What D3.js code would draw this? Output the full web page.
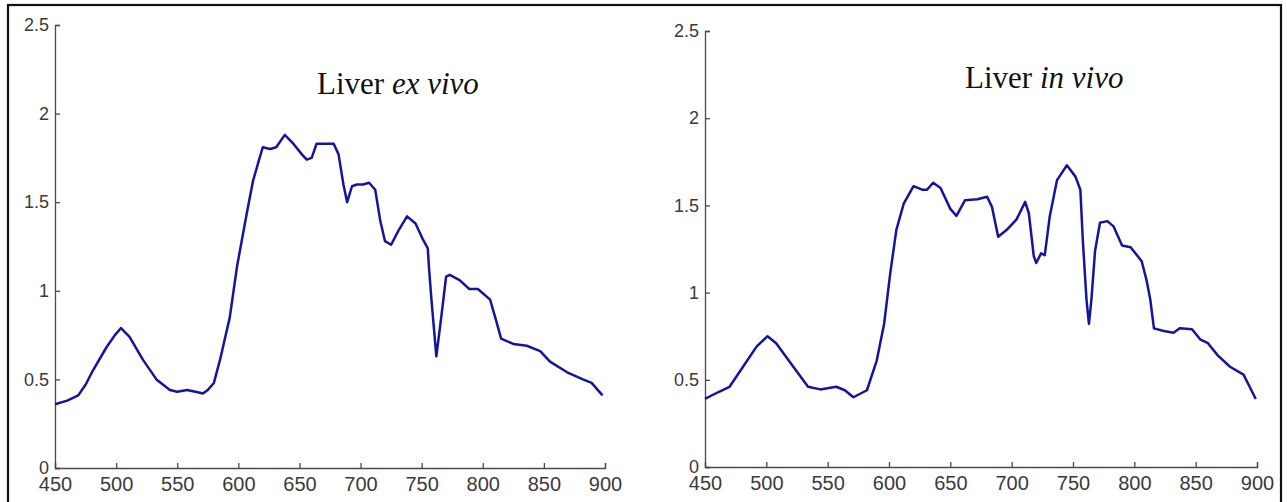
<!DOCTYPE html>
<html>
<head>
<meta charset="utf-8">
<script src="https://cdn.jsdelivr.net/npm/d3@7"></script>
<style>
  body { margin: 0; background: #fff; }
  .tick text { fill: #3a3a3a; font-family: "Liberation Sans", Arial, sans-serif; }
  .domain, .tick line { stroke: #4a4a4a; }
</style>
</head>
<body>
<div id="chart"></div>
<script>
// ex vivo spectrum (wavelength nm, value)
var exVivoWl = [450, 460, 469, 475, 481, 492, 499, 504, 511, 522, 533, 544, 550, 558, 565, 571, 575, 580, 585, 593,
  599, 607, 612, 617, 620, 626, 631, 638, 645, 652, 656, 660, 664, 670, 678, 682, 686, 689, 693, 697,
  702, 707, 712, 716, 720, 725, 731, 738, 745, 751, 755, 756, 758, 762, 766, 770, 773, 781, 789, 796,
  806, 811, 815, 825, 836, 847, 855, 869, 882, 889, 898];
var exVivoVal = [0.36, 0.38, 0.41, 0.47, 0.55, 0.68, 0.75, 0.79, 0.74, 0.61, 0.50, 0.44, 0.43, 0.44, 0.43, 0.42, 0.44, 0.48, 0.61, 0.85,
  1.14, 1.44, 1.62, 1.74, 1.81, 1.80, 1.81, 1.88, 1.83, 1.77, 1.74, 1.75, 1.83, 1.83, 1.83, 1.77, 1.60, 1.50, 1.59, 1.60,
  1.60, 1.61, 1.57, 1.40, 1.28, 1.26, 1.34, 1.42, 1.38, 1.29, 1.24, 1.13, 0.95, 0.63, 0.85, 1.08, 1.09, 1.06, 1.01, 1.01,
  0.95, 0.83, 0.73, 0.70, 0.69, 0.66, 0.60, 0.54, 0.50, 0.48, 0.41];

// in vivo spectrum
var inVivoWl = [450, 461, 470, 481, 492, 501, 508, 522, 534, 544, 557, 564, 571, 582, 590, 596, 601, 606, 612, 620,
  627, 631, 636, 642, 650, 655, 662, 672, 680, 684, 689, 696, 704, 711, 714, 718, 720, 724, 727, 731,
  737, 745, 752, 756, 758, 761, 763, 765, 768, 772, 778, 783, 790, 797, 806, 810, 813, 816, 824, 832,
  837, 847, 854, 860, 868, 878, 889, 894, 899];
var inVivoVal = [0.39, 0.43, 0.46, 0.575, 0.69, 0.75, 0.71, 0.575, 0.46, 0.445, 0.46, 0.44, 0.40, 0.44, 0.61, 0.82, 1.11, 1.36, 1.51, 1.61,
  1.59, 1.59, 1.63, 1.60, 1.48, 1.44, 1.53, 1.535, 1.55, 1.49, 1.32, 1.36, 1.42, 1.52, 1.455, 1.21, 1.17, 1.225, 1.215, 1.435,
  1.645, 1.73, 1.665, 1.59, 1.30, 0.96, 0.82, 0.96, 1.24, 1.40, 1.41, 1.38, 1.27, 1.26, 1.18, 1.07, 0.96, 0.795, 0.78, 0.77,
  0.795, 0.79, 0.73, 0.71, 0.64, 0.575, 0.53, 0.46, 0.39];

var xTicks = [450, 500, 550, 600, 650, 700, 750, 800, 850, 900];
var yTicks = [0, 0.5, 1, 1.5, 2, 2.5];

var width = 1287, height = 502;

var svg = d3.select("#chart").append("svg")
  .attr("width", width)
  .attr("height", height);

// outer frame, bottom edge runs off the picture
svg.append("rect")
  .attr("x", 8).attr("y", 5)
  .attr("width", 1273).attr("height", 520)
  .attr("fill", "none")
  .attr("stroke", "#111")
  .attr("stroke-width", 2.2);

var panels = [
  {wl: exVivoWl, val: exVivoVal, x0: 55, x1: 605, y0: 468, y1: 25, tx: 317, ty: 94, word: "ex vivo"},
  {wl: inVivoWl, val: inVivoVal, x0: 705, x1: 1257, y0: 467, y1: 31, tx: 965, ty: 88, word: "in vivo"}
];

panels.forEach(function(p) {
  var x = d3.scaleLinear().domain([450, 900]).range([p.x0, p.x1]);
  var y = d3.scaleLinear().domain([0, 2.5]).range([p.y0, p.y1]);

  var gx = svg.append("g")
    .attr("transform", "translate(0," + p.y0 + ")")
    .call(d3.axisBottom(x).tickValues(xTicks).tickSize(-5).tickPadding(9)
      .tickFormat(function(d) { return d; }));
  gx.selectAll(".tick text").attr("font-size", "20px");

  var gy = svg.append("g")
    .attr("transform", "translate(" + p.x0 + ",0)")
    .call(d3.axisLeft(y).tickValues(yTicks).tickSize(-5).tickPadding(6)
      .tickFormat(function(d) { return d; }));
  gy.selectAll(".tick text").attr("font-size", "18px");

  svg.selectAll(".domain, .tick line").attr("stroke-width", 1.3);

  var pts = p.wl.map(function(w, i) { return [w, p.val[i]]; });
  var line = d3.line()
    .x(function(d) { return x(d[0]); })
    .y(function(d) { return y(d[1]); });

  svg.append("path")
    .datum(pts)
    .attr("d", line)
    .attr("fill", "none")
    .attr("stroke", "#15159c")
    .attr("stroke-width", 2.5)
    .attr("stroke-linejoin", "round");

  var t = svg.append("text")
    .attr("x", p.tx).attr("y", p.ty)
    .attr("font-family", "'Liberation Serif', 'Times New Roman', serif")
    .attr("font-size", "31px")
    .attr("fill", "#111");
  t.append("tspan").text("Liver ");
  t.append("tspan").attr("font-style", "italic").text(p.word);
});
</script>
</body>
</html>
